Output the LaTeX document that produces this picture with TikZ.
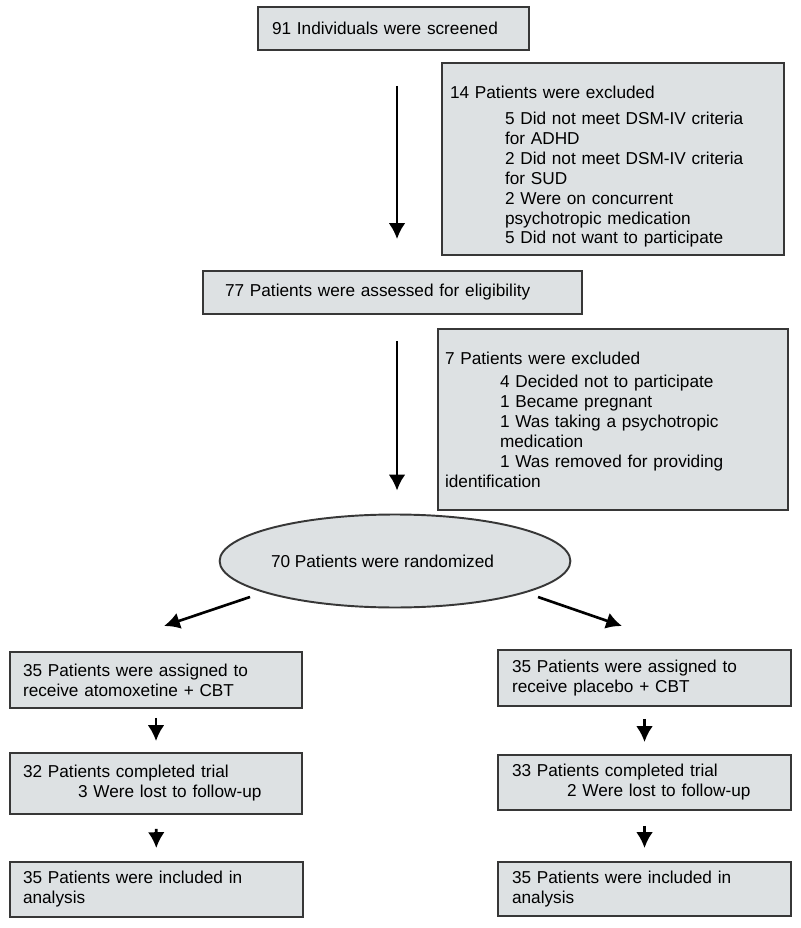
\documentclass[tikz,border=0pt]{standalone}
\usepackage{fontspec}
\setmainfont{Liberation Sans}
\definecolor{BoxFill}{RGB}{221,225,227}
\definecolor{BoxLine}{RGB}{55,55,55}
\usetikzlibrary{positioning,shapes,shapes.geometric,arrows,arrows.meta,calc}
\tikzset{>=latex}
\tikzset{
  box/.style={rectangle,draw=BoxLine,line width=1.1pt,fill=BoxFill,align=left,inner ysep=0pt,
    font=\fontsize{9.8pt}{11.34pt}\selectfont},
  flow/.style={-{Latex[length=9pt,width=9.5pt]},line width=1.5pt,black}
}
\newcommand{\ind}{\hspace*{1.1cm}}

\begin{document}
\begin{tikzpicture}[x=0.02cm,y=-0.02cm]
        \useasboundingbox (0,0) rectangle (800,928);
        % top of the chart
        \node[box,minimum width=5.42cm,minimum height=0.86cm,inner xsep=0.28cm,text width=4.86cm] at (393.5,28.5) (screen) {91 Individuals were screened};
        \node[box,minimum width=6.84cm,minimum height=3.84cm,inner xsep=0.16cm,text width=6.52cm] at (613,159) (excl1)
            {\rule{0pt}{16pt}14 Patients were excluded\\[3.4pt]
             \ind 5 Did not meet DSM-IV criteria\\
             \ind for ADHD\\
             \ind 2 Did not meet DSM-IV criteria\\
             \ind for SUD\\
             \ind 2 Were on concurrent\\
             \ind psychotropic medication\\
             \ind 5 Did not want to participate};
        \node[box,minimum width=7.58cm,minimum height=0.86cm,inner xsep=0.44cm,text width=6.70cm] at (392.5,292.5) (assess) {77 Patients were assessed for eligibility};
        \node[box,minimum width=7.0cm,minimum height=3.62cm,inner xsep=0.14cm,text width=6.72cm] at (613,419.5) (excl2)
            {7 Patients were excluded\\[2pt]
             \ind 4 Decided not to participate\\
             \ind 1 Became pregnant\\
             \ind 1 Was taking a psychotropic\\
             \ind medication\\
             \ind 1 Was removed for providing\\
             identification};
        \node[ellipse,draw=BoxLine,line width=1.1pt,fill=BoxFill,inner sep=0pt,minimum width=5.68cm,minimum height=1.86cm,
            font=\fontsize{9.8pt}{11.34pt}\selectfont] at (395,561) (rand) {70 Patients were randomized\hspace*{0.5cm}};
        % two arms
        \node[box,minimum width=5.84cm,minimum height=1.12cm,inner xsep=0.26cm,text width=5.32cm] at (156,680) (atoAssign)
            {35 Patients were assigned to\\ receive atomoxetine + CBT};
        \node[box,minimum width=5.84cm,minimum height=1.22cm,inner xsep=0.26cm,text width=5.32cm] at (156,783.5) (atoDone)
            {32 Patients completed trial\\ \ind 3 Were lost to follow-up};
        \node[box,minimum width=5.86cm,minimum height=1.10cm,inner xsep=0.26cm,text width=5.34cm] at (156.5,889.5) (atoAna)
            {35 Patients were included in\\ analysis};
        \node[box,minimum width=5.86cm,minimum height=1.12cm,inner xsep=0.28cm,text width=5.30cm] at (644.5,678) (plaAssign)
            {35 Patients were assigned to\\ receive placebo + CBT};
        \node[box,minimum width=5.86cm,minimum height=1.10cm,inner xsep=0.28cm,text width=5.30cm] at (644.5,782.5) (plaDone)
            {33 Patients completed trial\\ \ind 2 Were lost to follow-up};
        \node[box,minimum width=5.86cm,minimum height=1.08cm,inner xsep=0.28cm,text width=5.30cm] at (644.5,889) (plaAna)
            {35 Patients were included in\\ analysis};
        % arrows
        \coordinate (mid) at (397,0);
        \draw[flow,shorten <=0.7cm,shorten >=0.62cm] (screen.south -| mid) -- (assess.north -| mid);
        \draw[flow,shorten <=0.52cm,shorten >=0.46cm] (assess.south -| mid) -- (rand.north -| mid);
        \coordinate (randL) at (250,597);
        \coordinate (armL) at (164,626);
        \coordinate (randR) at (538,597);
        \coordinate (armR) at (622,626);
        \draw[flow] (randL) -- (armL);
        \draw[flow] (randR) -- (armR);
        \draw[flow,shorten <=0.18cm,shorten >=0.22cm] (atoAssign) -- (atoDone);
        \draw[flow,shorten <=0.28cm,shorten >=0.26cm] (atoDone) -- (atoAna);
        \draw[flow,shorten <=0.24cm,shorten >=0.24cm] (plaAssign) -- (plaDone);
        \draw[flow,shorten <=0.30cm,shorten >=0.26cm] (plaDone) -- (plaAna);
    \end{tikzpicture}
\end{document}
